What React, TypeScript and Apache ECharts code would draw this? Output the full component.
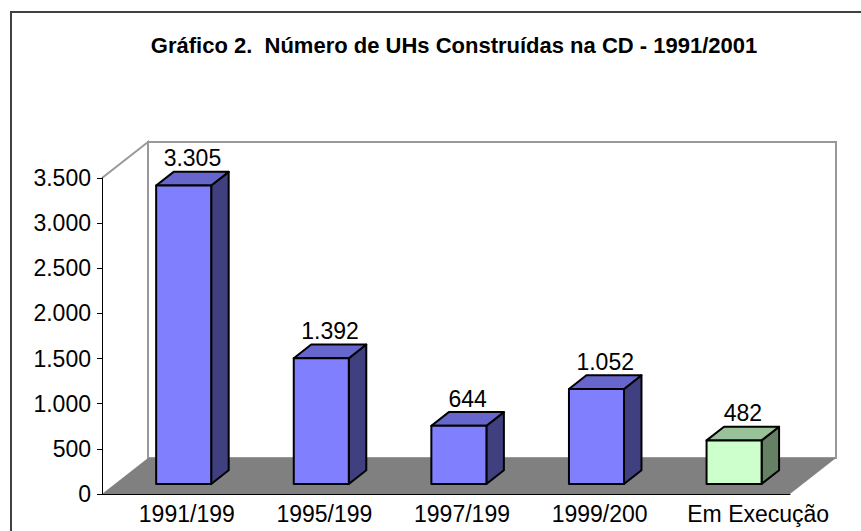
import React, { useEffect, useRef } from 'react';
import * as echarts from 'echarts';

// ---- data ----
const titleText = 'Gráfico 2.  Número de UHs Construídas na CD - 1991/2001';
const categories = ['1991/199', '1995/199', '1997/199', '1999/200', 'Em Execução'];
const units = [3305, 1392, 644, 1052, 482];
const yMin = 0;
const yMax = 3500;
const yStep = 500;

// ---- styles ----
const FONT = '"Liberation Sans", Arial, Helvetica, sans-serif';
const DEPTH: [number, number] = [46, -36];
const BAR_FRONT = 0.28;
const BAR_BACK = 0.66;
const BAR_RATIO = 0.4;
const BLUE = { front: '#8080FF', top: '#6666CC', side: '#404080' };
const GREEN = { front: '#CCFFCC', top: '#99C299', side: '#668066' };
const barStyles = [BLUE, BLUE, BLUE, BLUE, GREEN];

function fmt(v: number): string {
  return String(Math.round(v)).replace(/\B(?=(\d{3})+(?!\d))/g, '.');
}

export default function App() {
  const ref = useRef<HTMLDivElement>(null);
  useEffect(() => {
    document.body.style.margin = '0';
    if (!ref.current) return;
    const chart = echarts.init(ref.current, undefined, { renderer: 'svg' });
    const option: any = {
      animation: false,
      backgroundColor: '#ffffff',
      title: {
        text: titleText,
        left: 449,
        top: 29,
        textAlign: 'center',
        textStyle: { fontFamily: FONT, fontSize: 22, fontWeight: 'bold', color: '#000' },
      },
      graphic: [
        {
          type: 'rect',
          z: -10,
          silent: true,
          shape: { x: 11, y: 12, width: 900, height: 600 },
          style: { fill: null, stroke: '#404040', lineWidth: 2 },
        },
      ],
      grid: { left: 102, right: 71, top: 178, bottom: 37, containLabel: false },
      xAxis: {
        type: 'category',
        data: categories,
        z: 10,
        axisLine: { show: true, lineStyle: { color: '#000', width: 1 } },
        axisTick: { show: false },
        splitLine: { show: false },
        axisLabel: {
          margin: 8,
          interval: 0,
          color: '#000',
          fontFamily: FONT,
          fontSize: 23,
          formatter: (v: string, i: number) =>
            i === categories.length - 1 ? '{b|' + v + '}' : '{a|' + v + '}',
          rich: {
            a: { padding: [0, 0, 0, 32], fontFamily: FONT, fontSize: 23, color: '#000' },
            b: { padding: [0, 0, 0, 74], fontFamily: FONT, fontSize: 23, color: '#000' },
          },
        },
      },
      yAxis: {
        type: 'value',
        min: yMin,
        max: yMax,
        interval: yStep,
        z: 10,
        axisLine: { show: true, lineStyle: { color: '#000', width: 1 } },
        axisTick: { show: true, length: 5, lineStyle: { color: '#000' } },
        splitLine: { show: false },
        axisLabel: {
          margin: 11,
          color: '#000',
          fontFamily: FONT,
          fontSize: 23,
          formatter: (v: number) => fmt(v),
        },
      },
      series: [
        {
          type: 'custom',
          name: 'walls',
          silent: true,
          z: 1,
          data: [[0, 0]],
          encode: { x: 0, y: 1 },
          renderItem: (params: any, api: any) => {
            const cs = params.coordSys;
            const x0 = cs.x;
            const x1 = cs.x + cs.width;
            const yb = api.coord([0, yMin])[1];
            const yt = api.coord([0, yMax])[1];
            const [dx, dy] = DEPTH;
            return {
              type: 'group',
              children: [
                {
                  type: 'polygon',
                  shape: { points: [[x0, yt], [x0 + dx, yt + dy], [x0 + dx, yb + dy], [x0, yb]] },
                  style: { fill: '#ffffff', stroke: null },
                },
                {
                  type: 'rect',
                  shape: { x: x0 + dx, y: yt + dy, width: x1 - x0, height: yb - yt },
                  style: { fill: '#ffffff', stroke: '#999999', lineWidth: 2 },
                },
                {
                  type: 'polyline',
                  shape: { points: [[x0, yt], [x0 + dx, yt + dy], [x0 + dx, yb + dy]] },
                  style: { fill: null, stroke: '#999999', lineWidth: 2 },
                },
                {
                  type: 'polygon',
                  shape: { points: [[x0, yb], [x0 + dx, yb + dy], [x1 + dx, yb + dy], [x1, yb]] },
                  style: { fill: '#808080', stroke: null },
                },
              ],
            };
          },
        },
        {
          type: 'custom',
          name: 'UHs',
          z: 5,
          data: units.map((v, i) => [i, v]),
          encode: { x: 0, y: 1 },
          renderItem: (params: any, api: any) => {
            const i = api.value(0);
            const v = api.value(1);
            const [cx, yBase] = api.coord([i, yMin]);
            const yTop = api.coord([i, v])[1];
            const band = api.size([1, 0])[0];
            const w = band * BAR_RATIO;
            const fx = DEPTH[0] * BAR_FRONT;
            const fy = DEPTH[1] * BAR_FRONT;
            const sx = DEPTH[0] * (BAR_BACK - BAR_FRONT);
            const sy = DEPTH[1] * (BAR_BACK - BAR_FRONT);
            const L = cx + fx - w / 2;
            const R = L + w;
            const T = yTop + fy;
            const B = yBase + fy;
            const c = barStyles[params.dataIndex];
            const stroke = { stroke: '#000', lineWidth: 2, lineJoin: 'round' };
            return {
              type: 'group',
              children: [
                {
                  type: 'polygon',
                  shape: { points: [[R, T], [R + sx, T + sy], [R + sx, B + sy], [R, B]] },
                  style: { fill: c.side, ...stroke },
                },
                {
                  type: 'polygon',
                  shape: { points: [[L, T], [L + sx, T + sy], [R + sx, T + sy], [R, T]] },
                  style: { fill: c.top, ...stroke },
                },
                {
                  type: 'rect',
                  shape: { x: L, y: T, width: w, height: B - T },
                  style: { fill: c.front, ...stroke },
                },
                {
                  type: 'text',
                  style: {
                    text: fmt(v),
                    x: (L + R) / 2 + sx / 2,
                    y: T + sy - 2,
                    align: 'center',
                    verticalAlign: 'bottom',
                    fill: '#000',
                    fontFamily: FONT,
                    fontSize: 23,
                  },
                },
              ],
            };
          },
        },
      ],
    };
    chart.setOption(option);
    return () => chart.dispose();
  }, []);
  return <div ref={ref} style={{ width: 861, height: 531 }} />;
}
